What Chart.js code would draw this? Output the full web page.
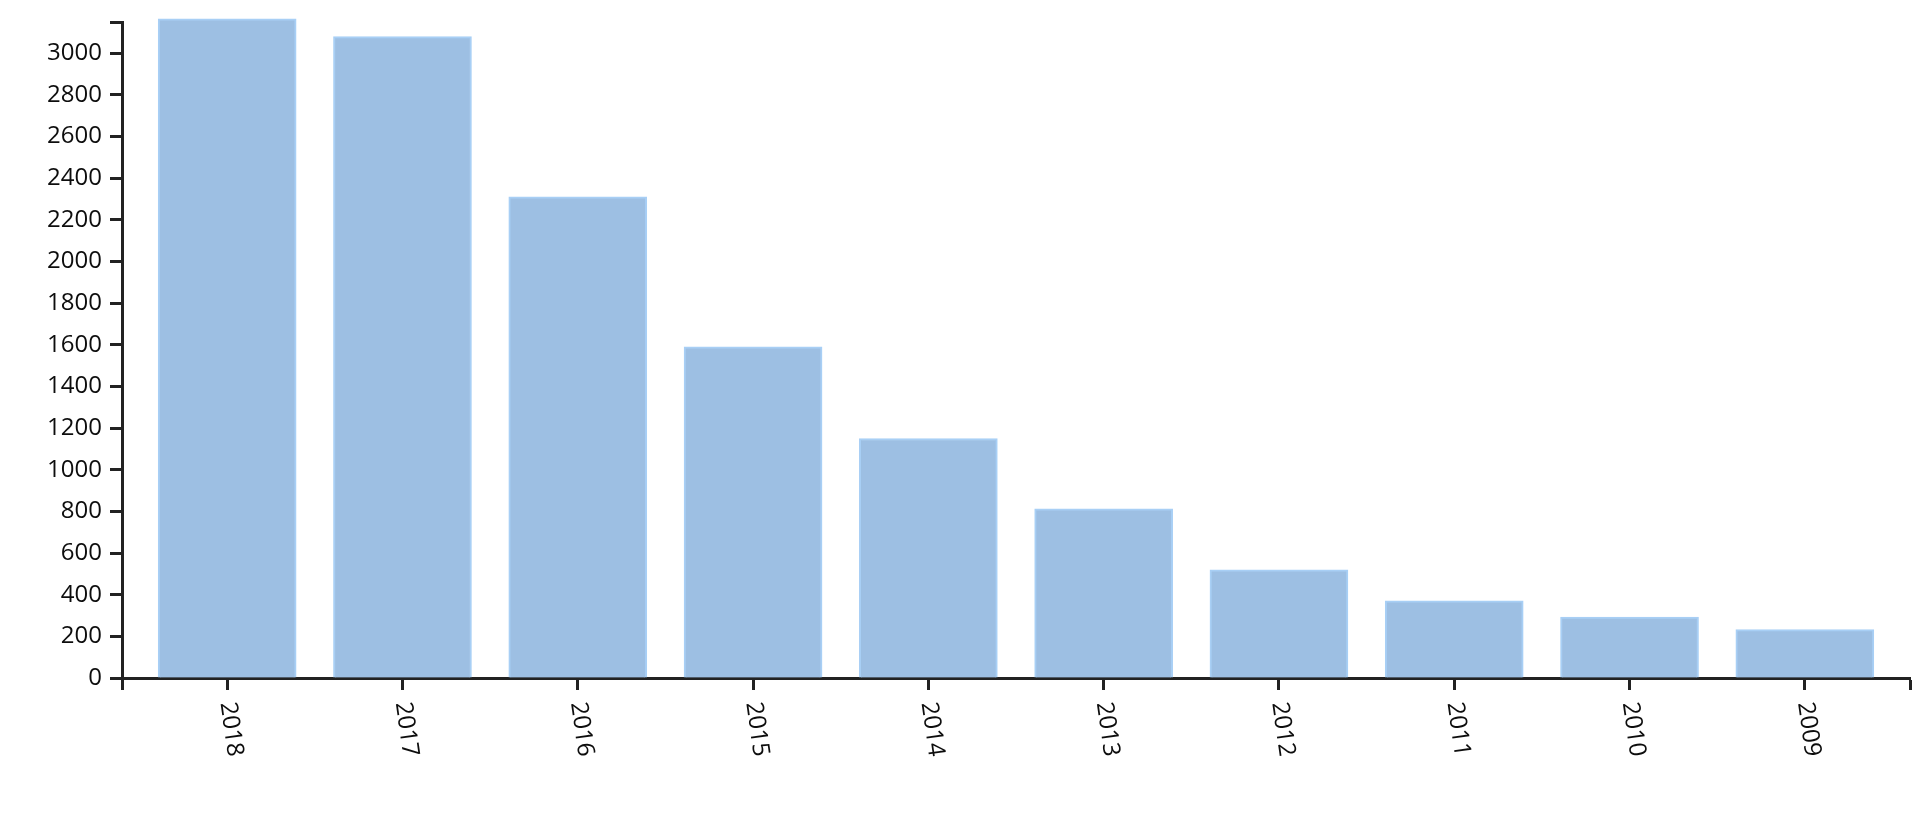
<!DOCTYPE html>
<html>
<head>
<meta charset="utf-8">
<script src="https://cdn.jsdelivr.net/npm/chart.js@4"></script>
<style>
  html, body { margin: 0; padding: 0; background: #fff; }
  #wrap { width: 1920px; height: 816px; }
</style>
</head>
<body>
<div id="wrap"><canvas id="yearChart"></canvas></div>
<script>
const years = ["2018", "2017", "2016", "2015", "2014", "2013", "2012", "2011", "2010", "2009"];
const counts = [3165, 3080, 2310, 1590, 1150, 812, 520, 370, 292, 232];
const yTickValues = [0, 200, 400, 600, 800, 1000, 1200, 1400, 1600, 1800, 2000, 2200, 2400, 2600, 2800, 3000];
const yTop = 3148;

const axisColor = "#222222";
const labelColor = "#0d0d0d";
const fontFamily = "'Open Sans', 'Noto Sans', sans-serif";

// year labels are turned clockwise, which the built-in ticks can't do
const yearLabels = {
  id: "yearLabels",
  afterDraw(chart) {
    const xs = chart.scales.x;
    const ctx = chart.ctx;
    ctx.save();
    ctx.font = "24px " + fontFamily;
    ctx.fillStyle = labelColor;
    ctx.textAlign = "left";
    ctx.textBaseline = "middle";
    years.forEach((yr, i) => {
      ctx.save();
      ctx.translate(xs.getPixelForValue(i), xs.top + 24);
      ctx.rotate(82 * Math.PI / 180);
      ctx.fillText(yr, 0, 0);
      ctx.restore();
    });
    ctx.restore();
  }
};

new Chart(document.getElementById("yearChart"), {
  type: "bar",
  data: {
    datasets: [{
      data: years.map((y, i) => ({ x: i, y: counts[i] })),
      backgroundColor: "#9dbfe3",
      borderColor: "#a8cff5",
      borderWidth: 2,
      barThickness: 138,
      clip: false
    }]
  },
  options: {
    responsive: true,
    maintainAspectRatio: false,
    animation: false,
    layout: { padding: { top: 20, right: 10, left: 0, bottom: 0 } },
    plugins: { legend: { display: false }, tooltip: { enabled: false } },
    scales: {
      x: {
        type: "linear",
        min: -0.6,
        max: 9.6,
        offset: false,
        z: 1,
        afterBuildTicks: s => {
          s.ticks = [-0.6].concat(years.map((y, i) => i), [9.6]).map(v => ({ value: v }));
        },
        afterFit: s => { s.height = 138; },
        ticks: { display: false },
        grid: { offset: false, drawOnChartArea: false, drawTicks: true, tickLength: 12, tickWidth: 3, color: axisColor },
        border: { display: true, color: axisColor, width: 3 }
      },
      y: {
        min: 0,
        max: yTop,
        z: 1,
        afterBuildTicks: s => {
          s.ticks = yTickValues.concat([yTop]).map(v => ({ value: v }));
        },
        afterFit: s => { s.width = 122; },
        ticks: {
          autoSkip: false,
          padding: 8,
          color: labelColor,
          font: { family: fontFamily, size: 24 },
          callback: v => (yTickValues.includes(v) ? String(v) : "")
        },
        grid: { drawOnChartArea: false, drawTicks: true, tickLength: 12, tickWidth: 3, color: axisColor },
        border: { display: true, color: axisColor, width: 3 }
      }
    }
  },
  plugins: [yearLabels]
});
</script>
</body>
</html>
